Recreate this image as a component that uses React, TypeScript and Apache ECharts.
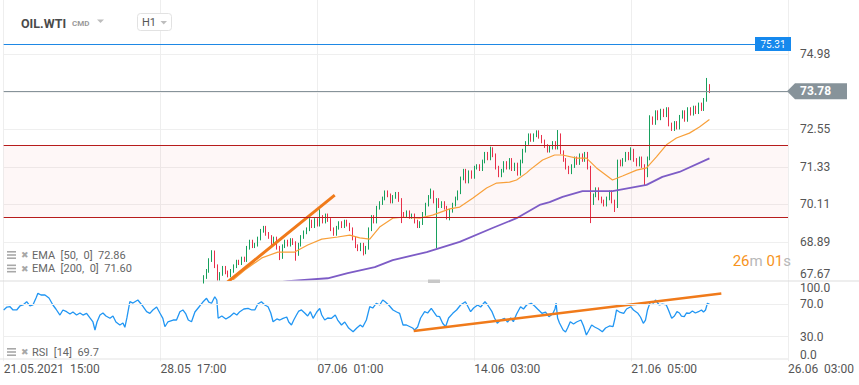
import React, { useEffect, useRef } from "react";
import * as echarts from "echarts";

const FONT = "Roboto, 'Noto Sans', sans-serif";

// x axis: hourly trading index, ticks every 116 hours
const xLabels = ["21.05.2021  15:00", "28.05  17:00", "07.06  01:00", "14.06  03:00", "21.06  05:00", "26.06  03:00"];
const xStep = 116;
const xMax = 580;

// price axis tick labels (73.77 hidden behind the last price badge)
const priceLabels = ["67.67", "68.89", "70.11", "71.33", "72.55", "", "74.98"];
const priceMin = 67.67;
const priceTop = 74.98;
const priceMax = 76.74;

// 2-hour candles, starting at hour index 148
const candleStart = 148;
const candleStep = 2;
const firstOpen = 67.6;
const closes = [
  67.75, 67.95, 68.30, 68.55, 68.10, 67.70, 67.85, 68.05, 67.90, 67.80,
  67.95, 68.10, 68.25, 68.20, 68.35, 68.30, 68.70, 68.90, 68.75, 68.80,
  69.00, 69.25, 69.35, 69.15, 69.05, 68.85, 69.00, 68.70, 68.40, 68.75,
  68.90, 68.80, 68.95, 68.85, 68.50, 68.80, 69.05, 69.20, 69.30, 69.55,
  69.40, 69.60, 69.45, 69.70, 69.55, 69.75, 69.60, 69.30, 69.15, 69.35,
  69.50, 69.40, 69.55, 69.45, 69.30, 69.00, 68.75, 68.65, 68.80, 68.55,
  68.70, 69.30, 69.70, 69.55, 70.00, 70.15, 70.30, 70.50, 70.40, 70.20,
  70.35, 70.45, 70.25, 69.80, 69.75, 69.85, 69.70, 69.75, 69.55, 69.40,
  69.50, 69.80, 70.10, 70.35, 70.50, 70.20, 70.25, 70.05, 70.15, 70.00,
  69.65, 69.90, 70.10, 70.30, 70.50, 70.95, 71.20, 70.85, 71.15, 71.00,
  71.30, 71.35, 71.25, 71.50, 71.75, 71.60, 71.90, 71.70, 71.30, 71.05,
  71.20, 71.45, 71.30, 71.55, 71.25, 71.40, 71.10, 71.50, 71.85, 72.10,
  72.35, 72.20, 72.35, 72.45, 72.30, 72.15, 72.00, 71.85, 71.95, 72.10,
  71.95, 72.35, 71.80, 71.55, 71.30, 71.15, 71.35, 71.60, 71.45, 71.70,
  71.55, 71.75, 71.30, 70.15, 70.40, 70.60, 70.30, 70.20, 70.10, 70.30,
  70.50, 70.20, 70.05, 71.50, 71.40, 71.55, 71.75, 71.60, 71.85, 71.55,
  71.40, 71.60, 71.35, 71.05, 71.60, 72.90, 72.75, 73.10, 72.90, 73.15,
  73.00, 73.20, 72.70, 72.55, 72.75, 72.60, 72.95, 73.10, 72.85, 73.20,
  73.05, 73.25, 73.10, 73.35, 73.20, 73.50, 73.95, 73.78,
];
const wick = 0.06;
// [candle number, high, low] for the candles with long shadows
const longWicks: [number, number | null, number | null][] = [
  [3, 68.62, null], [28, null, 68.3], [34, null, 68.28], [39, 69.66, null],
  [43, 69.95, null], [59, null, 68.45], [73, null, 69.5], [84, 70.62, null],
  [86, null, 68.68], [90, null, 69.62], [106, 71.98, null], [131, 72.52, null],
  [143, null, 69.5], [152, null, 69.86], [158, 71.96, null], [163, null, 70.73],
  [165, 73.0, null], [186, 74.21, null],
];

const ema50: [number, number][] = [
  [160, 67.4], [169.4, 67.65], [178.3, 67.98], [190.9, 68.37], [202.7, 68.56], [215.2, 68.56],
  [224.8, 68.79], [235.2, 68.98], [247.0, 69.05], [255.9, 69.11], [263.3, 69.02], [270.7, 68.98],
  [278.0, 69.37], [287.7, 69.66], [295.0, 69.69], [307.6, 69.66], [317.2, 69.76], [329.8, 69.96],
  [337.2, 70.02], [346.8, 70.31], [357.1, 70.64], [364.5, 70.8], [374.1, 70.83], [379.3, 70.9],
  [386.7, 71.13], [388.9, 71.22], [398.5, 71.55], [407.4, 71.71], [413.3, 71.71], [423.6, 71.61],
  [431.0, 71.61], [438.4, 71.29], [450.2, 70.9], [457.6, 71.03], [468.0, 71.22], [475.4, 71.29],
  [482.7, 71.65], [490.1, 72.04], [497.5, 72.26], [507.1, 72.42], [514.5, 72.62], [521.9, 72.86],
];
const ema200: [number, number][] = [
  [200, 67.55], [210.1, 67.62], [239.6, 67.71], [254.4, 67.88], [274.4, 68.07], [287.7, 68.3],
  [312.8, 68.56], [337.2, 68.89], [361.5, 69.34], [379.3, 69.66], [396.3, 70.09], [403.7, 70.18],
  [413.3, 70.35], [428.0, 70.54], [450.2, 70.54], [475.4, 70.74], [487.1, 71.0], [499.7, 71.16],
  [521.9, 71.6],
];

const rsi: [number, number][] = [
  [0, 62.7], [2.4, 66.3], [4.7, 66.7], [6.9, 62.7], [9.6, 62.7], [12, 67.6], [14.3, 68.8], [17, 72.8],
  [19.4, 67.6], [21.6, 68.8], [23.9, 77.3], [25.3, 83.1], [27.6, 81.0], [30.5, 81.0], [33.5, 77.3],
  [36.4, 68.8], [38.6, 63.9], [41.6, 56.5], [43.8, 62.7], [46.5, 60.6], [49, 57.8], [51.2, 60.2],
  [53.9, 56.5], [56.4, 59.0], [58.6, 56.5], [61.3, 58.6], [63.8, 52.9], [66, 48.0], [67.5, 38.2],
  [69, 48.0], [71.2, 56.5], [73.4, 59.0], [75.6, 55.3], [78.6, 52.5], [80.8, 55.3], [83, 48.0],
  [85.9, 44.3], [88.2, 46.8], [89.6, 41.5], [91.1, 52.9], [93.3, 72.8], [95.6, 71.2], [99.2, 74.9],
  [102.2, 68.8], [105.7, 60.6], [108.1, 58.6], [110.3, 62.7], [113.1, 66.3], [115.5, 59.0],
  [117.7, 52.5], [119.2, 42.2], [121.4, 48.0], [125.3, 50.4], [127.8, 50.4], [130.3, 60.6],
  [132.5, 62.7], [134.7, 57.8], [136.5, 50.4], [138.9, 48.3], [141.4, 60.2], [145, 67.6],
  [147.3, 72.4], [150, 77.0], [151.7, 72.4], [153.7, 70.9], [156.1, 78.9], [157.6, 74.9],
  [158.6, 52.5], [161.3, 55.3], [164.3, 51.7], [167.2, 54.5], [170.2, 59.0], [172.4, 56.5],
  [174.6, 60.6], [177.6, 63.9], [180.7, 64.7], [183.5, 62.7], [185.7, 62.7], [187.9, 70.0],
  [190.6, 72.8], [193.1, 68.8], [195.5, 66.7], [197.5, 59.0], [199.2, 48.3], [202, 51.7],
  [204.2, 50.4], [206.6, 52.5], [209.3, 54.1], [210.8, 48.0], [212.8, 44.3], [214.5, 50.4],
  [216.5, 56.5], [218.2, 61.4], [220.2, 62.7], [222.6, 59.0], [224.8, 55.3], [226.8, 60.6],
  [228.8, 52.5], [231.5, 60.2], [233.7, 64.7], [235.2, 56.5], [237.4, 50.4], [239.6, 52.9],
  [242.4, 52.5], [245.2, 56.5], [247, 50.4], [249.8, 44.3], [252.2, 48.0], [255.1, 40.6],
  [258.4, 36.1], [261.1, 40.6], [263.7, 44.3], [265.5, 41.9], [268.2, 50.4], [270.7, 66.7],
  [272.9, 65.1], [275.5, 70.9], [278.1, 68.8], [280.3, 74.9], [282.1, 72.8], [284.7, 68.8],
  [287.9, 62.7], [290.6, 60.2], [292.8, 58.6], [295.3, 44.3], [297.8, 44.3], [300.5, 42.2],
  [302.4, 40.6], [303.9, 38.2], [306.1, 41.9], [308.3, 52.9], [311.3, 60.6], [313.5, 59.0],
  [316.2, 64.7], [317.9, 60.6], [320.2, 55.3], [322.4, 54.5], [324.6, 46.4], [326.8, 42.2],
  [329, 52.9], [332.1, 58.6], [334.9, 62.7], [337.9, 68.8], [341.4, 72.8], [343.1, 67.6],
  [345.3, 60.6], [347.5, 65.1], [350.5, 68.8], [352.7, 66.3], [355.9, 72.8], [357.9, 68.8],
  [361.1, 60.6], [363, 52.9], [365, 46.4], [367.5, 50.4], [370.3, 52.5], [372.6, 48.0],
  [374.9, 52.9], [376.9, 48.3], [379.3, 57.8], [382.2, 66.7], [384.4, 63.9], [386.7, 68.8],
  [390.1, 70.9], [392.6, 67.6], [394.8, 63.9], [398, 58.6], [400.7, 60.2], [403.2, 54.5],
  [405.9, 57.8], [407.7, 63.9], [408.5, 71.2], [409.6, 52.9], [411, 46.8], [413.7, 38.2],
  [415.5, 35.8], [417, 40.6], [419, 48.3], [421.4, 45.5], [423.6, 48.0], [426.9, 50.4],
  [428.8, 43.1], [430.9, 32.1], [432.5, 37.0], [434.8, 44.3], [437, 41.9], [439.9, 39.4],
  [442.7, 36.1], [445.1, 40.6], [448, 43.1], [450.6, 42.2], [452.1, 52.9], [453.2, 62.7],
  [455.4, 60.2], [458.5, 58.6], [460.6, 63.9], [463.7, 66.7], [465.7, 62.7], [469, 58.6],
  [470.9, 54.1], [473, 46.4], [474.6, 50.4], [476.1, 62.7], [478.2, 72.8], [480.5, 71.2],
  [482, 74.9], [484.8, 68.8], [487.1, 70.0], [490, 68.8], [491.6, 62.7], [494, 52.5],
  [496, 55.3], [497.9, 60.6], [499.7, 59.0], [501.2, 55.3], [503.3, 54.5], [504.9, 59.0],
  [507.2, 58.6], [509.3, 61.4], [511.5, 59.0], [513.8, 60.6], [516, 62.7], [517.5, 60.2],
  [519, 62.7], [520.4, 70.9], [522, 69.7],
];

const priceTrend: [number, number][] = [[160, 67.39], [244.8, 70.41]];
const rsiTrend: [number, number][] = [[303.2, 36.97], [530.7, 82.8]];
const rangeTop = 72.02;
const rangeBottom = 69.68;
const alertPrice = 75.31;
const lastPrice = 73.78;
const ema50Last = "72.86";
const ema200Last = "71.60";
const rsiLast = "69.7";

export default function App() {
  const ref = useRef<HTMLDivElement>(null);
  useEffect(() => {
    const el = ref.current!;
    const chart = echarts.init(el, null, { renderer: "svg" });

    const candles = closes.map((c, k) => {
      const o = k === 0 ? firstOpen : closes[k - 1];
      let h = Math.max(o, c) + wick;
      let l = Math.min(o, c) - wick;
      const w = longWicks.find((x) => x[0] === k);
      if (w) {
        if (w[1] != null) h = w[1];
        if (w[2] != null) l = w[2];
      }
      return [candleStart + candleStep * k, o, c, l, h];
    });

    const priceInterval = (priceTop - priceMin) / 6;
    const grid0 = { left: 3.7, right: 71, top: 0, height: 279.5 };
    const grid1 = { left: 3.7, right: 71, top: 279.5, height: 81.7 };
    const xBase = {
      type: "value" as const,
      min: 0,
      max: xMax,
      interval: xStep,
      axisLine: { show: false },
      axisTick: { show: false },
      splitLine: { show: true, lineStyle: { color: "#eeeeee", width: 1 } },
    };
    const gl = "#efefef";
    const tr = "rgba(0,0,0,0)";

    chart.setOption({
      animation: false,
      backgroundColor: "#ffffff",
      textStyle: { fontFamily: FONT },
      grid: [grid0, grid1],
      xAxis: [
        { ...xBase, gridIndex: 0, axisLabel: { show: false } },
        {
          ...xBase,
          gridIndex: 1,
          axisLabel: {
            show: true,
            align: "left",
            margin: 1.5,
            color: "#555555",
            fontSize: 12,
            fontFamily: FONT,
            showMinLabel: true,
            showMaxLabel: true,
            formatter: (v: number) => xLabels[Math.round(v / xStep)] ?? "",
          },
        },
      ],
      yAxis: [
        {
          type: "value",
          gridIndex: 0,
          position: "right",
          min: priceMin,
          max: priceMax,
          interval: priceInterval,
          axisLine: { show: false },
          axisTick: { show: false },
          splitLine: {
            show: true,
            lineStyle: { color: [tr, gl, gl, gl, gl, gl, gl, tr, tr] },
          },
          axisLabel: {
            margin: 12,
            color: "#555555",
            fontSize: 12,
            fontFamily: FONT,
            formatter: (v: number) => {
              const idx = Math.round((v - priceMin) / priceInterval);
              return idx === 0 ? "" : priceLabels[idx] ?? "";
            },
          },
        },
        {
          type: "value",
          gridIndex: 1,
          position: "right",
          min: 0,
          max: 100,
          interval: 10,
          axisLine: { show: false },
          axisTick: { show: false },
          splitLine: { show: false },
          axisLabel: {
            margin: 12,
            color: "#555555",
            fontSize: 12,
            fontFamily: FONT,
            formatter: (v: number) => (v === 30 || v === 70 ? v.toFixed(1) : ""),
          },
        },
      ],
      series: [
        {
          type: "candlestick",
          xAxisIndex: 0,
          yAxisIndex: 0,
          data: candles,
          encode: { x: 0, y: [1, 2, 3, 4] },
          barWidth: 1,
          clip: true,
          itemStyle: {
            color: "#17a05d",
            color0: "#e8304a",
            borderColor: "#17a05d",
            borderColor0: "#e8304a",
            borderWidth: 1,
          },
          markArea: {
            silent: true,
            itemStyle: { color: "rgba(235,80,80,0.045)" },
            data: [[{ yAxis: rangeBottom }, { yAxis: rangeTop }]],
          },
          markLine: {
            silent: true,
            symbol: ["none", "none"],
            label: { show: false },
            data: [
              { yAxis: rangeTop, lineStyle: { color: "#b71c1c", width: 1, type: "solid" } },
              { yAxis: rangeBottom, lineStyle: { color: "#b71c1c", width: 1, type: "solid" } },
              { yAxis: alertPrice, lineStyle: { color: "#1e88e5", width: 1, type: "solid" } },
              { yAxis: lastPrice, lineStyle: { color: "#87939a", width: 1, type: "solid" } },
            ],
          },
        },
        {
          type: "line",
          xAxisIndex: 0,
          yAxisIndex: 0,
          data: ema200,
          showSymbol: false,
          clip: true,
          lineStyle: { color: "#7d5cc6", width: 1.8 },
          z: 3,
        },
        {
          type: "line",
          xAxisIndex: 0,
          yAxisIndex: 0,
          data: ema50,
          showSymbol: false,
          clip: true,
          lineStyle: { color: "#f8a03a", width: 1.2 },
          z: 3,
        },
        {
          type: "line",
          xAxisIndex: 0,
          yAxisIndex: 0,
          data: priceTrend,
          showSymbol: false,
          clip: true,
          lineStyle: { color: "#f07a1a", width: 3 },
          z: 4,
        },
        {
          type: "line",
          xAxisIndex: 1,
          yAxisIndex: 1,
          data: rsi,
          showSymbol: false,
          clip: true,
          lineStyle: { color: "#2196f3", width: 1.3 },
          markLine: {
            silent: true,
            symbol: ["none", "none"],
            label: { show: false },
            lineStyle: { color: "#eeeeee", width: 1, type: "solid" },
            data: [{ yAxis: 30 }, { yAxis: 70 }],
          },
          z: 3,
        },
        {
          type: "line",
          xAxisIndex: 1,
          yAxisIndex: 1,
          data: rsiTrend,
          showSymbol: false,
          clip: false,
          lineStyle: { color: "#f07a1a", width: 2.5 },
          z: 4,
        },
      ],
    });

    const gridRight = chart.convertToPixel({ gridIndex: 0 }, [xMax, priceMin])[0] as number;
    const priceBottom = chart.convertToPixel({ gridIndex: 0 }, [0, priceMin])[1] as number;
    const yAlert = chart.convertToPixel({ gridIndex: 0 }, [0, alertPrice])[1] as number;
    const yLast = chart.convertToPixel({ gridIndex: 0 }, [0, lastPrice])[1] as number;
    const y100 = chart.convertToPixel({ gridIndex: 1 }, [0, 100])[1] as number;
    const y0 = chart.convertToPixel({ gridIndex: 1 }, [0, 0])[1] as number;

    const listIcon = (x: number, y: number) => ({
      type: "group",
      x,
      y,
      children: [
        { type: "rect", shape: { x: 0, y: -4, width: 9, height: 1.6 }, style: { fill: "#a8a8a8" } },
        { type: "rect", shape: { x: 0, y: -0.8, width: 9, height: 1.6 }, style: { fill: "#a8a8a8" } },
        { type: "rect", shape: { x: 0, y: 2.4, width: 9, height: 1.6 }, style: { fill: "#a8a8a8" } },
        {
          type: "text",
          x: 14,
          y: 0,
          style: { text: "✖", fill: "#a8a8a8", fontSize: 9, fontFamily: "DejaVu Sans", verticalAlign: "middle" },
        },
      ],
    });
    const legendText = (x: number, y: number, text: string) => ({
      type: "text",
      x,
      y,
      style: { text, fill: "#666666", fontSize: 11, fontFamily: FONT, verticalAlign: "middle" },
    });
    const axisText = (y: number, text: string) => ({
      type: "text",
      x: gridRight + 12,
      y,
      style: { text, fill: "#555555", fontSize: 12, fontFamily: FONT, verticalAlign: "middle" },
    });

    chart.setOption({
      graphic: [
        // header
        { type: "text", x: 21, y: 23, style: { text: "OIL.WTI", fill: "#4a4a4a", fontSize: 12.5, fontWeight: "bold", fontFamily: FONT, verticalAlign: "middle" } },
        { type: "text", x: 72, y: 23, style: { text: "CMD", fill: "#9a9a9a", fontSize: 8, fontWeight: "bold", fontFamily: FONT, verticalAlign: "middle" } },
        { type: "polygon", shape: { points: [[97, 19.5], [104, 19.5], [100.5, 23]] }, style: { fill: "#bdbdbd" } },
        { type: "rect", shape: { x: 137.5, y: 13.5, width: 34, height: 17, r: 3 }, style: { fill: "#ffffff", stroke: "#e2e2e2", lineWidth: 1 } },
        { type: "text", x: 142, y: 22.5, style: { text: "H1", fill: "#555555", fontSize: 11, fontFamily: FONT, verticalAlign: "middle" } },
        { type: "polygon", shape: { points: [[160.5, 21], [167, 21], [163.75, 24.5]] }, style: { fill: "#bdbdbd" } },
        // pane separators
        { type: "line", shape: { x1: 0, y1: 281, x2: 859, y2: 281 }, style: { stroke: "#dddddd", lineWidth: 1 } },
        { type: "line", shape: { x1: 0, y1: 359, x2: gridRight, y2: 359 }, style: { stroke: "#e3e3e3", lineWidth: 1 } },
        { type: "rect", shape: { x: 428, y: 279.5, width: 12, height: 3.5 }, style: { fill: "#c8c8c8" } },
        // price axis bottom label, kept inside its pane
        axisText(priceBottom - 6, priceLabels[0]),
        // alert price badge
        { type: "rect", shape: { x: gridRight - 33, y: yAlert - 7, width: 36, height: 14 }, style: { fill: "#1589ee" } },
        { type: "text", x: gridRight - 15, y: yAlert, style: { text: alertPrice.toFixed(2), fill: "#ffffff", fontSize: 10, fontFamily: FONT, align: "center", verticalAlign: "middle" } },
        // last price badge
        {
          type: "polygon",
          shape: { points: [[gridRight - 1, yLast], [gridRight + 7, yLast - 8], [gridRight + 59, yLast - 8], [gridRight + 59, yLast + 8], [gridRight + 7, yLast + 8]] },
          style: { fill: "#87939a" },
        },
        { type: "text", x: gridRight + 12, y: yLast, style: { text: lastPrice.toFixed(2), fill: "#ffffff", fontSize: 12, fontWeight: "bold", fontFamily: FONT, verticalAlign: "middle" } },
        // RSI edge labels
        axisText(y100 + 8.5, "100.0"),
        axisText(y0 - 6, "0.0"),
        // candle timer
        {
          type: "text",
          x: gridRight + 3,
          y: priceBottom - 19,
          style: {
            text: "{o|26}{g|m} {o|01}{g|s}",
            align: "right",
            verticalAlign: "middle",
            fontFamily: FONT,
            fontSize: 15,
            rich: {
              o: { fill: "#f7941d", fontSize: 15, fontFamily: FONT },
              g: { fill: "#b8b8b8", fontSize: 15, fontFamily: FONT },
            },
          },
        },
        // legends
        listIcon(7, 255),
        legendText(32, 255, `EMA  [50,  0]  ${ema50Last}`),
        listIcon(7, 268.5),
        legendText(32, 268.5, `EMA  [200,  0]  ${ema200Last}`),
        listIcon(7, 352),
        legendText(32, 352, `RSI  [14]  ${rsiLast}`),
      ],
    });

    return () => chart.dispose();
  }, []);
  return (
    <div
      ref={ref}
      style={{ position: "absolute", left: 0, top: 0, width: 859, height: 385, background: "#ffffff" }}
    />
  );
}
